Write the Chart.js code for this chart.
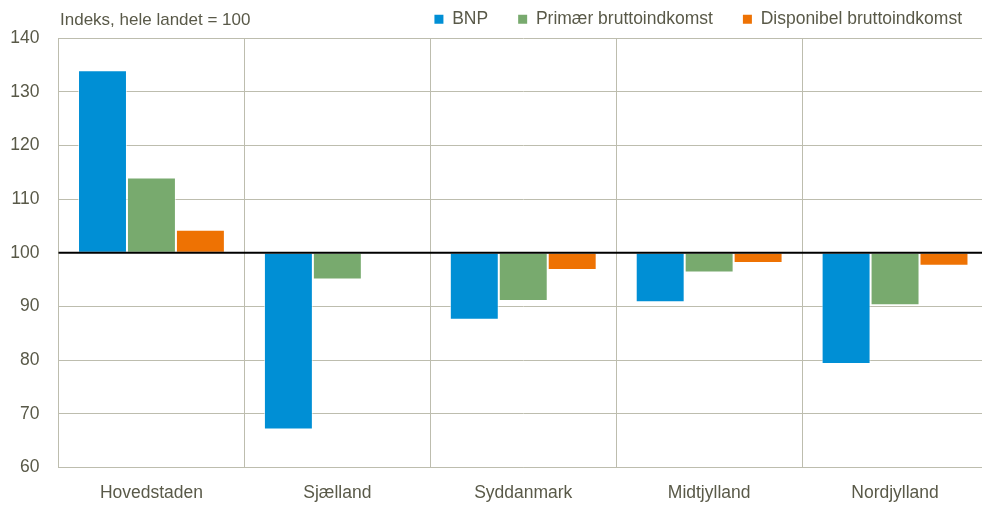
<!DOCTYPE html>
<html>
<head>
<meta charset="utf-8">
<script src="https://cdn.jsdelivr.net/npm/chart.js@4/dist/chart.umd.min.js"></script>
<style>
  html, body { margin: 0; padding: 0; background: #fff; overflow: hidden; }
  #wrap { position: relative; width: 990px; height: 506px; }
  #unit { position: absolute; left: 60px; top: 10px; font-family: "Liberation Sans", Arial, sans-serif; font-size: 17px; color: #595948; }
</style>
</head>
<body>
<div id="wrap">
  <canvas id="c" width="990" height="506"></canvas>
  <div id="unit">Indeks, hele landet = 100</div>
</div>
<script>
const categories = ["Hovedstaden", "Sjælland", "Syddanmark", "Midtjylland", "Nordjylland"];
const seriesNames = ["BNP", "Primær bruttoindkomst", "Disponibel bruttoindkomst"];
const bnp = [134.0, 67.1, 87.5, 90.8, 79.3];
const primaer = [114.0, 95.0, 91.0, 96.3, 90.2];
const disponibel = [104.3, 100.0, 96.8, 98.1, 97.6];
const baseline = 100;
const yTicks = [60, 70, 80, 90, 100, 110, 120, 130, 140];

const colors = ["#008fd5", "#78aa6e", "#ee7203"];
const FONT = "'Liberation Sans', Arial, sans-serif";
const TEXT = '#595948';
const GRID = '#bdbdae';

function floating(arr) { return arr.map(v => [baseline, v]); }

const baselinePlugin = {
  id: 'baselineLine',
  afterLayout(chart) {
    if (chart.legend) { chart.legend.left += 4; chart.legend.right += 4; }
  },
  afterDatasetsDraw(chart) {
    const y = chart.scales.y.getPixelForValue(baseline);
    const a = chart.chartArea;
    const ctx = chart.ctx;
    ctx.save();
    ctx.strokeStyle = '#000';
    ctx.lineWidth = 2;
    ctx.beginPath();
    ctx.moveTo(a.left, y);
    ctx.lineTo(a.right, y);
    ctx.stroke();
    ctx.restore();
  }
};

new Chart(document.getElementById('c'), {
  type: 'bar',
  data: {
    labels: categories,
    datasets: [bnp, primaer, disponibel].map((d, i) => ({
      label: seriesNames[i],
      data: floating(d),
      backgroundColor: colors[i],
      borderColor: 'rgba(255,255,255,0.6)',
      borderWidth: 1,
      borderSkipped: false,
      categoryPercentage: 0.79,
      barPercentage: 1.0
    }))
  },
  options: {
    responsive: false,
    animation: false,
    layout: { padding: { left: 0, right: 2, top: -19.5, bottom: 0 } },
    plugins: {
      title: { display: false },
      tooltip: { enabled: false },
      legend: {
        display: true,
        position: 'top',
        align: 'end',
        labels: {
          boxWidth: 9,
          boxHeight: 9,
          padding: 30,
          color: TEXT,
          font: { family: FONT, size: 17.5 },
          generateLabels(chart) {
            return chart.data.datasets.map((ds, i) => ({
              text: ds.label,
              fillStyle: ds.backgroundColor,
              strokeStyle: ds.backgroundColor,
              fontColor: TEXT,
              lineWidth: 0,
              datasetIndex: i,
              hidden: false
            }));
          }
        }
      }
    },
    scales: {
      x: {
        afterFit(scale) { scale.height = 38.5; },
        grid: { display: true, offset: true, color: GRID, lineWidth: 1, drawTicks: false },
        border: { display: true, color: GRID, width: 1 },
        ticks: { color: TEXT, font: { family: FONT, size: 17.5 }, padding: 15, maxRotation: 0 }
      },
      y: {
        min: 60,
        max: 140,
        afterBuildTicks(scale) { scale.ticks = yTicks.map(v => ({ value: v })); },
        afterFit(scale) { scale.width = 58.5; },
        grid: { color: GRID, lineWidth: 1, drawTicks: false },
        border: { display: true, color: GRID, width: 1 },
        ticks: { color: TEXT, font: { family: FONT, size: 17.5 }, padding: 19 }
      }
    }
  },
  plugins: [baselinePlugin]
});
</script>
</body>
</html>
